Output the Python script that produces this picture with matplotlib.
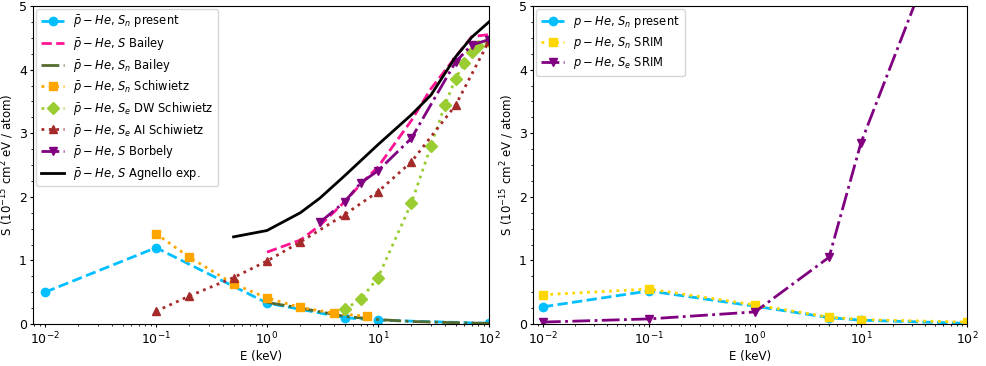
import numpy as np
import matplotlib.pyplot as plt

# ---- antiproton - He (left panel) ----
E_pres = [0.01, 0.1, 1, 5, 10, 100]
Sn_pres = [0.5, 1.2, 0.33, 0.1, 0.06, 0.01]

E_bailey = [1, 2, 3, 5, 7, 10, 20, 30, 50, 70, 100]
S_bailey = [1.13, 1.32, 1.55, 1.92, 2.2, 2.47, 3.2, 3.7, 4.2, 4.52, 4.55]

E_bailey_n = [1, 2, 5, 10, 20, 50, 100]
Sn_bailey = [0.34, 0.25, 0.12, 0.07, 0.04, 0.02, 0.01]

E_sch_n = [0.1, 0.2, 0.5, 1, 2, 4, 8]
Sn_sch = [1.42, 1.05, 0.63, 0.41, 0.26, 0.17, 0.12]

E_dw = [5, 7, 10, 20, 30, 40, 50, 60, 70, 80, 100]
Se_dw = [0.23, 0.39, 0.73, 1.9, 2.8, 3.44, 3.86, 4.1, 4.27, 4.37, 4.45]

E_al = [0.1, 0.2, 0.5, 1, 2, 5, 10, 20, 50, 100]
Se_al = [0.2, 0.44, 0.73, 0.99, 1.29, 1.72, 2.08, 2.55, 3.44, 4.45]

E_borb = [3, 5, 7, 10, 20, 50, 70, 100]
S_borb = [1.6, 1.92, 2.22, 2.41, 2.92, 4.12, 4.39, 4.47]

E_agn = [0.5, 1, 2, 3, 5, 10, 20, 30, 50, 70, 100]
S_agn = [1.37, 1.47, 1.75, 1.98, 2.33, 2.82, 3.29, 3.6, 4.2, 4.51, 4.75]

# ---- proton - He (right panel) ----
E_p = [0.01, 0.1, 1, 5, 10, 100]
Sn_p_pres = [0.27, 0.52, 0.28, 0.1, 0.06, 0.01]
Sn_p_srim = [0.46, 0.55, 0.3, 0.11, 0.07, 0.03]
Se_p_srim = [0.03, 0.08, 0.19, 1.05, 2.85, 7.15]

ylab = r"S ($10^{-15}$ cm$^2$ eV / atom)"
pb = r"$\bar{p}-He$, "
pp = r"$p-He$, "

fig = plt.figure(figsize=(9.86, 3.66), dpi=100)
ax1 = fig.add_axes([33/986, 42/366, 456/986, 318/366])
ax2 = fig.add_axes([533/986, 42/366, 434/986, 318/366])

lw = 2
ax1.plot(E_pres, Sn_pres, "o--", color="deepskyblue", lw=lw, label=pb + r"$S_n$ present")
ax1.plot(E_bailey, S_bailey, "--", color="deeppink", lw=lw, label=pb + r"$S$ Bailey")
ax1.plot(E_bailey_n, Sn_bailey, "-.", color="darkolivegreen", lw=lw, label=pb + r"$S_n$ Bailey")
ax1.plot(E_sch_n, Sn_sch, "s:", color="orange", lw=lw, label=pb + r"$S_n$ Schiwietz")
ax1.plot(E_dw, Se_dw, "D:", color="yellowgreen", lw=lw, label=pb + r"$S_e$ DW Schiwietz")
ax1.plot(E_al, Se_al, "^:", color="brown", lw=lw, label=pb + r"$S_e$ AI Schiwietz")
ax1.plot(E_borb, S_borb, "v-.", color="purple", lw=lw, label=pb + r"$S$ Borbely")
ax1.plot(E_agn, S_agn, "-", color="black", lw=lw, label=pb + r"$S$ Agnello exp.")

ax2.plot(E_p, Sn_p_pres, "o--", color="deepskyblue", lw=lw, label=pp + r"$S_n$ present")
ax2.plot(E_p, Sn_p_srim, "s:", color="gold", lw=lw, label=pp + r"$S_n$ SRIM")
ax2.plot(E_p, Se_p_srim, "v-.", color="purple", lw=lw, label=pp + r"$S_e$ SRIM")

for ax, lo in [(ax1, 10**-2.108), (ax2, 10**-2.094)]:
    ax.set_xscale("log")
    ax.set_xlim(lo, 100)
    ax.set_ylim(0, 5)
    ax.set_yticks([0, 1, 2, 3, 4, 5])
    ax.set_yticks(np.arange(0, 5.01, 0.25), minor=True)
    ax.tick_params(labelsize=9, length=2.5, pad=2)
    ax.tick_params(which="minor", length=1.5)
    ax.set_xlabel("E (keV)", fontsize=8.5, labelpad=2)
    ax.set_ylabel(ylab, fontsize=8.5, labelpad=2)
    ax.legend(loc="upper left", fontsize=8.3, labelspacing=0.4, borderaxespad=0.3)

fig.savefig("out.png", dpi=100)
